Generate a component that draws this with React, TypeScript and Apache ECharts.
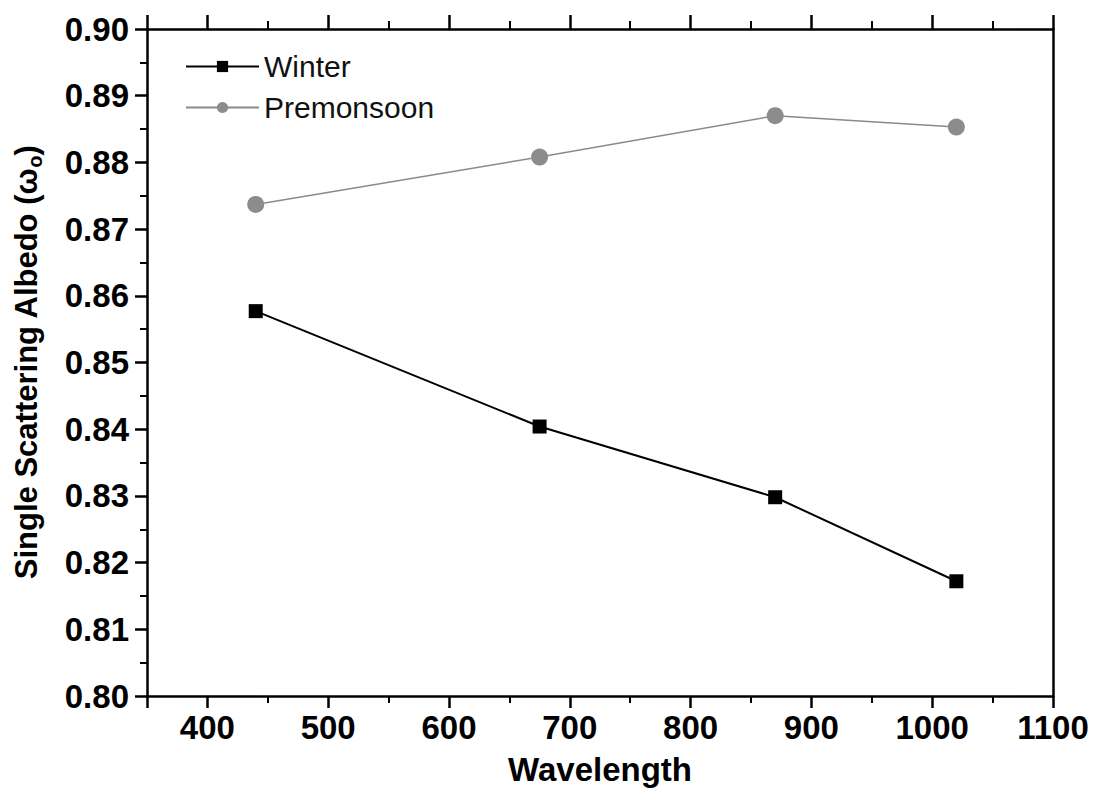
import React, { useEffect, useRef } from "react";
import * as echarts from "echarts";

const wavelengths = [440, 675, 870, 1020];
const winter = [0.8577, 0.8404, 0.8298, 0.8172];
const premonsoon = [0.8737, 0.8808, 0.8870, 0.8853];
const seriesNames = ["Winter", "Premonsoon"];
const xTitle = "Wavelength";

const FONT = "'Liberation Sans', Arial, Helvetica, sans-serif";

export default function App() {
  const ref = useRef<HTMLDivElement>(null);
  useEffect(() => {
    if (!ref.current) return;
    const chart = echarts.init(ref.current, null, { renderer: "svg" });
    const axisLine = { show: true, lineStyle: { color: "#000", width: 2.5 } };
    const option: any = {
      animation: false,
      backgroundColor: "#fff",
      textStyle: { fontFamily: FONT },
      grid: { left: 147, right: 42, top: 29, bottom: 93 },
      legend: {
        left: 180,
        top: 46,
        orient: "vertical",
        itemWidth: 73,
        itemHeight: 14,
        itemGap: 10,
        textStyle: { fontFamily: FONT, fontSize: 30, color: "#111", lineHeight: 31, padding: [0, 0, 0, 0] },
        data: seriesNames,
      },
      xAxis: [
        {
          type: "value",
          min: 350,
          max: 1100,
          splitNumber: 7,
          name: xTitle,
          nameLocation: "middle",
          nameGap: 57,
          nameTextStyle: { fontFamily: FONT, fontSize: 33, fontWeight: "bold", color: "#000" },
          axisLine,
          axisTick: { show: true, length: 12, lineStyle: { color: "#000", width: 2.5 } },
          minorTick: { show: true, splitNumber: 2, length: 7, lineStyle: { color: "#000", width: 2 } },
          splitLine: { show: false },
          axisLabel: {
            showMinLabel: false,
            margin: 15,
            fontFamily: FONT,
            fontSize: 33,
            fontWeight: "bold",
            color: "#000",
            formatter: (v: number) => String(v),
          },
        },
        {
          type: "value",
          position: "top",
          min: 350,
          max: 1100,
          splitNumber: 7,
          axisLine,
          axisTick: { show: true, length: 14, lineStyle: { color: "#000", width: 2.5 } },
          minorTick: { show: true, splitNumber: 2, length: 8, lineStyle: { color: "#000", width: 2 } },
          splitLine: { show: false },
          axisLabel: { show: false },
        },
      ],
      yAxis: [
        {
          type: "value",
          min: 0.8,
          max: 0.9,
          interval: 0.01,
          name: "{a|Single Scattering Albedo (ω}{b|o}{a|)}",
          nameLocation: "middle",
          nameRotate: 90,
          nameGap: 102,
          nameTextStyle: {
            rich: {
              a: { fontFamily: FONT, fontSize: 31, fontWeight: "bold", color: "#000" },
              b: { fontFamily: FONT, fontSize: 20, fontWeight: "bold", color: "#000", padding: [18, 0, 0, 0] },
            },
          },
          axisLine,
          axisTick: { show: true, length: 12, lineStyle: { color: "#000", width: 2.5 } },
          minorTick: { show: true, splitNumber: 2, length: 7, lineStyle: { color: "#000", width: 2 } },
          splitLine: { show: false },
          axisLabel: {
            margin: 18,
            fontFamily: FONT,
            fontSize: 33,
            fontWeight: "bold",
            color: "#000",
            formatter: (v: number) => v.toFixed(2),
          },
        },
        {
          type: "value",
          position: "right",
          min: 0.8,
          max: 0.9,
          interval: 0.01,
          axisLine,
          axisTick: { show: false },
          splitLine: { show: false },
          axisLabel: { show: false },
        },
      ],
      series: [
        {
          name: seriesNames[0],
          type: "line",
          data: wavelengths.map((w, i) => [w, winter[i]]),
          symbol: "rect",
          symbolSize: 14,
          lineStyle: { color: "#000", width: 2 },
          itemStyle: { color: "#000" },
        },
        {
          name: seriesNames[1],
          type: "line",
          data: wavelengths.map((w, i) => [w, premonsoon[i]]),
          symbol: "circle",
          symbolSize: 17,
          lineStyle: { color: "#8a8a8a", width: 1.5 },
          itemStyle: { color: "#8c8c8c" },
        },
      ],
    };
    chart.setOption(option);
    return () => chart.dispose();
  }, []);
  return <div ref={ref} style={{ width: 1095, height: 791, position: "absolute", left: 0, top: 0 }} />;
}
